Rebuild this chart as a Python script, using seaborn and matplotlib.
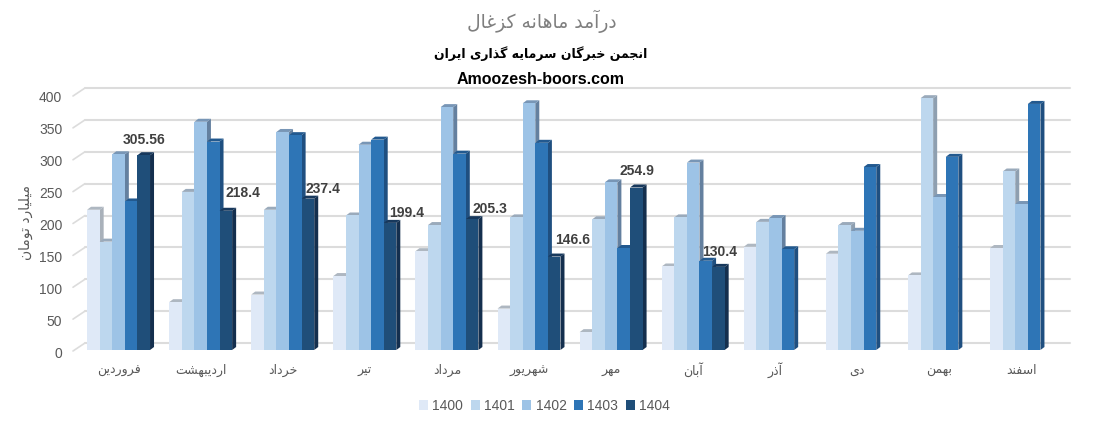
import numpy as np
import pandas as pd
import matplotlib
matplotlib.use("Agg")
import matplotlib.pyplot as plt
from matplotlib.patches import Polygon
from matplotlib.transforms import Affine2D
import seaborn as sns

months = ['فروردین', 'اردیبهشت', 'خرداد', 'تیر', 'مرداد', 'شهریور',
          'مهر', 'آبان', 'آذر', 'دی', 'بهمن', 'اسفند']
y1400 = [220, 75, 87, 116, 155, 65, 28, 131, 162, 151, 117, 160]
y1401 = [170, 248, 220, 211, 196, 208, 205, 208, 201, 196, 395, 280]
y1402 = [307, 358, 342, 322, 381, 387, 263, 294, 207, 187, 240, 229]
y1403 = [233, 327, 337, 330, 308, 325, 160, 140, 158, 287, 303, 386]
y1404 = [305.56, 218.4, 237.4, 199.4, 205.3, 146.6, 254.9, 130.4,
         np.nan, np.nan, np.nan, np.nan]
years = ['1400', '1401', '1402', '1403', '1404']
series = [y1400, y1401, y1402, y1403, y1404]

front_colors = ['#DFE9F7', '#BDD7EE', '#9DC3E6', '#2E75B6', '#1F4E79']
side_colors = ['#A9B1BA', '#8E9FB0', '#64809F', '#1F4F80', '#142F4E']
top_colors = ['#AEB7C1', '#9AAABB', '#7896B6', '#22598F', '#17385C']

# where each value label sits relative to its bar (pixels)
label_dx = [0, 17, 15, 17, 18, 18, 1, 1]
label_dy = [15, 18, 10, 10, 10, 17, 17, 15]

# matplotlib has no Arabic shaping, so map letters to presentation forms
FORMS = {
    'ا': (0xFE8D, 0xFE8E), 'آ': (0xFE81, 0xFE82),
    'د': (0xFEA9, 0xFEAA), 'ذ': (0xFEAB, 0xFEAC),
    'ر': (0xFEAD, 0xFEAE), 'ز': (0xFEAF, 0xFEB0), 'و': (0xFEED, 0xFEEE),
    'ب': (0xFE8F, 0xFE90, 0xFE91, 0xFE92), 'پ': (0xFB56, 0xFB57, 0xFB58, 0xFB59),
    'ت': (0xFE95, 0xFE96, 0xFE97, 0xFE98), 'خ': (0xFEA5, 0xFEA6, 0xFEA7, 0xFEA8),
    'ج': (0xFE9D, 0xFE9E, 0xFE9F, 0xFEA0),
    'س': (0xFEB1, 0xFEB2, 0xFEB3, 0xFEB4), 'ش': (0xFEB5, 0xFEB6, 0xFEB7, 0xFEB8),
    'غ': (0xFECD, 0xFECE, 0xFECF, 0xFED0), 'ف': (0xFED1, 0xFED2, 0xFED3, 0xFED4),
    'ک': (0xFB8E, 0xFB8F, 0xFB90, 0xFB91), 'گ': (0xFB92, 0xFB93, 0xFB94, 0xFB95),
    'ل': (0xFEDD, 0xFEDE, 0xFEDF, 0xFEE0), 'م': (0xFEE1, 0xFEE2, 0xFEE3, 0xFEE4),
    'ن': (0xFEE5, 0xFEE6, 0xFEE7, 0xFEE8), 'ه': (0xFEE9, 0xFEEA, 0xFEEB, 0xFEEC),
    'ی': (0xFBFC, 0xFBFD, 0xFBFE, 0xFBFF),
}


def shape(text):
    out = []
    for i, ch in enumerate(text):
        f = FORMS.get(ch)
        if f is None:
            out.append(ch)
            continue
        prev = FORMS.get(text[i - 1]) if i > 0 else None
        nxt = FORMS.get(text[i + 1]) if i + 1 < len(text) else None
        after = prev is not None and len(prev) == 4
        before = nxt is not None and len(f) == 4
        if after and before:
            out.append(chr(f[3]))
        elif before:
            out.append(chr(f[2]))
        elif after:
            out.append(chr(f[1]))
        else:
            out.append(chr(f[0]))
    return ''.join(out)[::-1]


W, H = 1101, 425
df = pd.DataFrame({'month': months * len(years),
                   'year': [y for y in years for _ in months],
                   'value': [v for s in series for v in s]})

sns.set_theme(style='white')
plt.rcParams['font.family'] = ['Liberation Sans', 'DejaVu Sans']
fig = plt.figure(figsize=(W / 100, H / 100), dpi=100)
ax = fig.add_axes([77.5 / W, 1 - 350 / H, 985.1 / W, 255 / H])

sns.barplot(data=df, x='month', y='value', hue='year', palette=front_colors,
            width=0.767, gap=0, saturation=1, errorbar=None, linewidth=0, ax=ax)
ax.set_xlim(-0.5, 11.5)
ax.set_ylim(0, 400)
ax.patch.set_alpha(0)
sns.despine(ax=ax, left=True, bottom=True)

# back wall grid, shifted back from the front plane
ticks = [0, 50, 100, 150, 200, 250, 300, 350, 400]
px_x = 985.1 / 12
px_y = 255 / 400
wall = ax.transData + Affine2D().translate(7.5, 7)
for t in ticks:
    ax.plot([-0.5, 11.5], [t, t], color='#DCDCDC', lw=1.5, transform=wall,
            clip_on=False, zorder=0)
    ax.plot([-0.5 - 4.5 / px_x, -0.5 + 7.5 / px_x], [t - 1 / px_y, t + 7 / px_y],
            color='#DCDCDC', lw=1.2, clip_on=False, zorder=0)

# depth faces on every bar
dx = 4 / px_x
dy = 3 / px_y
for i, cont in enumerate(ax.containers):
    for bar in cont:
        x0 = bar.get_x()
        x1 = x0 + bar.get_width()
        h = bar.get_height()
        bar.set_zorder(3 + 2 * i)
        bar.set_clip_on(False)
        ax.add_patch(Polygon([(x1, 0), (x1, h), (x1 + dx, h + dy), (x1 + dx, dy)],
                             fc=side_colors[i], ec='none', zorder=2 + 2 * i, clip_on=False))
        ax.add_patch(Polygon([(x0, h), (x1, h), (x1 + dx, h + dy), (x0 + dx, h + dy)],
                             fc=top_colors[i], ec='none', zorder=2 + 2 * i, clip_on=False))

# labels for the last year
for bar, v, ox, oy in zip(ax.containers[-1], y1404[:8], label_dx, label_dy):
    ax.annotate(str(v), (bar.get_x() + bar.get_width() / 2, bar.get_height()),
                xytext=(ox * 0.72, oy * 0.72), textcoords='offset points', ha='center',
                va='center', fontsize=10, fontweight='bold', color='#404040', zorder=30,
                annotation_clip=False)

ax.set_xticks(range(12))
ax.set_xticklabels([shape(m) for m in months], fontsize=9, color='#595959',
                   family=['DejaVu Sans'], va='center')
ax.set_yticks(ticks)
ax.tick_params(axis='y', length=0, pad=11, labelsize=10, labelcolor='#595959')
ax.tick_params(axis='x', length=0, pad=14.5)
for lab in ax.get_yticklabels():
    lab.set_transform(lab.get_transform() + Affine2D().translate(0, -2))
ax.set_xlabel('')
ax.set_ylabel(shape('میلیارد تومان'), fontsize=10, color='#595959', family=['DejaVu Sans'])
ax.yaxis.set_label_coords((33 - 77.5) / 985.1, (350 - 223) / 255)

sns.move_legend(ax, 'center', bbox_to_anchor=((544.5 - 77.5) / 985.1, (350 - 406) / 255),
                ncol=5, frameon=False, title=None, fontsize=10, handlelength=0.65,
                handleheight=0.65, handletextpad=0.3, columnspacing=0.55)
for txt in ax.get_legend().get_texts():
    txt.set_color('#595959')

fig.text(542 / W, 1 - 21 / H, shape('درآمد ماهانه کزغال'), ha='center', va='center',
         fontsize=13.5, color='#7F7F7F', family=['DejaVu Sans'])
fig.text(541 / W, 1 - 54 / H, shape('انجمن خبرگان سرمایه گذاری ایران'), ha='center',
         va='center', fontsize=9, fontweight='bold', color='black', family=['DejaVu Sans'])
fig.text(541 / W, 1 - 79 / H, 'Amoozesh-boors.com', ha='center', va='center',
         fontsize=11.5, fontweight='bold', color='black')

fig.savefig('out.png', dpi=100)
